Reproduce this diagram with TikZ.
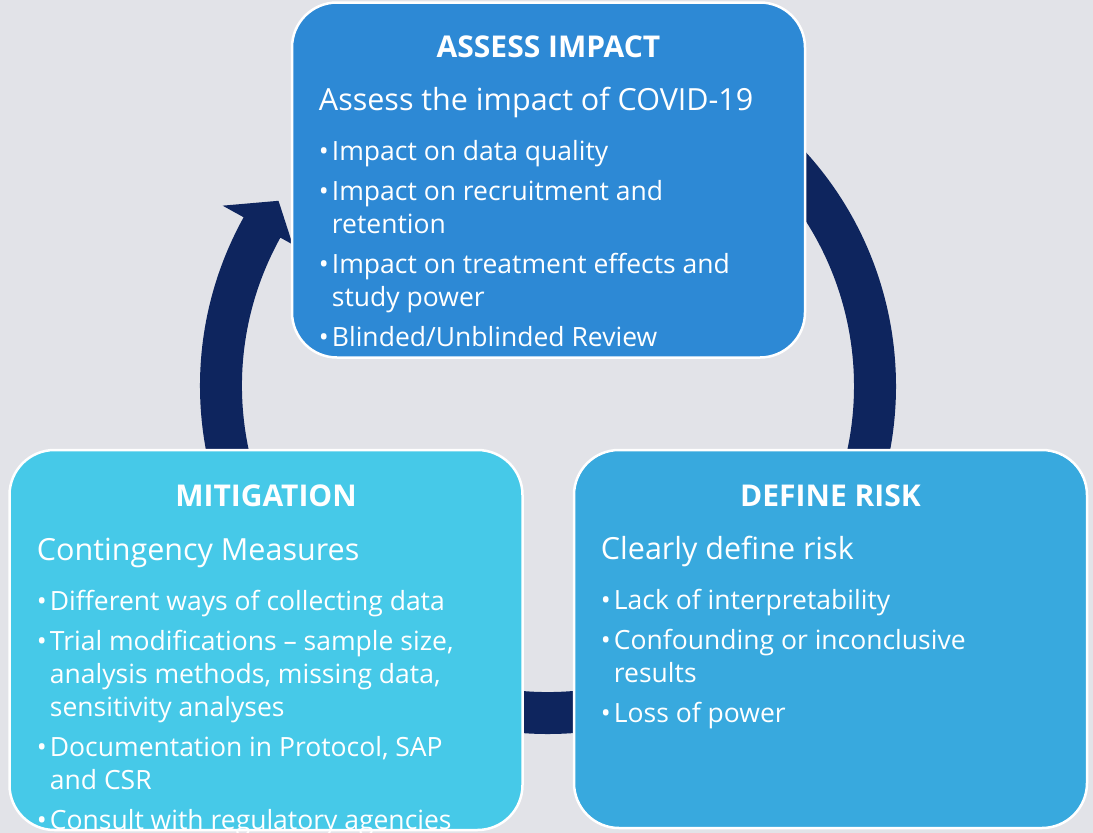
\documentclass[tikz,border=0pt]{standalone}
\usepackage{fontspec}
\setmainfont{Open Sans}
\usetikzlibrary{calc}
\definecolor{bgcustom}{RGB}{226,227,232}
\definecolor{navycustom}{RGB}{14,37,94}
\definecolor{assessblue}{RGB}{45,137,213}
\definecolor{riskblue}{RGB}{56,169,222}
\definecolor{mitigationblue}{RGB}{70,201,232}

\newcommand{\subhead}[1]{{\fontsize{30.5}{36}\selectfont #1}}
\newcommand{\stagebullet}{•\kern3pt}
\newcommand{\contpad}{\hphantom{\stagebullet}}

\tikzset{
  stagebox/.style={draw=white, line width=2.5pt, rounded corners=45pt, minimum width=513pt, inner sep=0pt},
  stagetitle/.style={text=white, anchor=base, font=\fontsize{30}{36}\selectfont\bfseries},
  stagetext/.style={text=white, anchor=north west, inner sep=0pt, align=left, font=\fontsize{26.5}{33}\selectfont},
}

\begin{document}
\begin{tikzpicture}[x=1pt, y=-1pt]
  \useasboundingbox (0,0) rectangle (1093,833);
  \fill[bgcustom] (0,0) rectangle (1093,833);

  % cycle arrow, mostly hidden behind the boxes
  \begin{scope}[shift={(548,386)}]
    \fill[navycustom] (-50:348) arc[start angle=-50, end angle=209, radius=348]
      -- (209:372) -- (214.5:327) -- (209:292) -- (209:306)
      arc[start angle=209, end angle=-50, radius=306] -- cycle;
  \end{scope}

  % the three stages
  \node[stagebox, fill=assessblue, minimum height=355pt] (assess) at (548.5,180) {};
  \node[stagebox, fill=mitigationblue, minimum height=380pt] (mitigation) at (266,640) {};
  \node[stagebox, fill=riskblue, minimum height=378pt] (risk) at (830.5,639) {};

  \node[stagetitle] (assesstitle) at ($(assess.north)+(0,56)$) {ASSESS IMPACT};
  \node[stagetitle] (mitigationtitle) at ($(mitigation.north)+(0,58)$) {MITIGATION};
  \node[stagetitle] (risktitle) at ($(risk.north)+(0,58)$) {DEFINE RISK};

  \node[stagetext] (assessbody) at ($(assess.north west)+(28,86)$) {
    \subhead{Assess the impact of COVID-19}\\[17pt]
    \stagebullet Impact on data quality\\[7pt]
    \stagebullet Impact on recruitment and\\
    \contpad retention\\[7pt]
    \stagebullet Impact on treatment effects and\\
    \contpad study power\\[7pt]
    \stagebullet Blinded/Unblinded Review
  };
  \node[stagetext] (mitigationbody) at ($(mitigation.north west)+(28.5,89)$) {
    \subhead{Contingency Measures}\\[17pt]
    \stagebullet Different ways of collecting data\\[7pt]
    \stagebullet Trial modifications – sample size,\\
    \contpad analysis methods, missing data,\\
    \contpad sensitivity analyses\\[7pt]
    \stagebullet Documentation in Protocol, SAP\\
    \contpad and CSR\\[7pt]
    \stagebullet Consult with regulatory agencies
  };
  \node[stagetext] (riskbody) at ($(risk.north west)+(28,87)$) {
    \subhead{Clearly define risk}\\[17pt]
    \stagebullet Lack of interpretability\\[7pt]
    \stagebullet Confounding or inconclusive\\
    \contpad results\\[7pt]
    \stagebullet Loss of power
  };
\end{tikzpicture}
\end{document}
